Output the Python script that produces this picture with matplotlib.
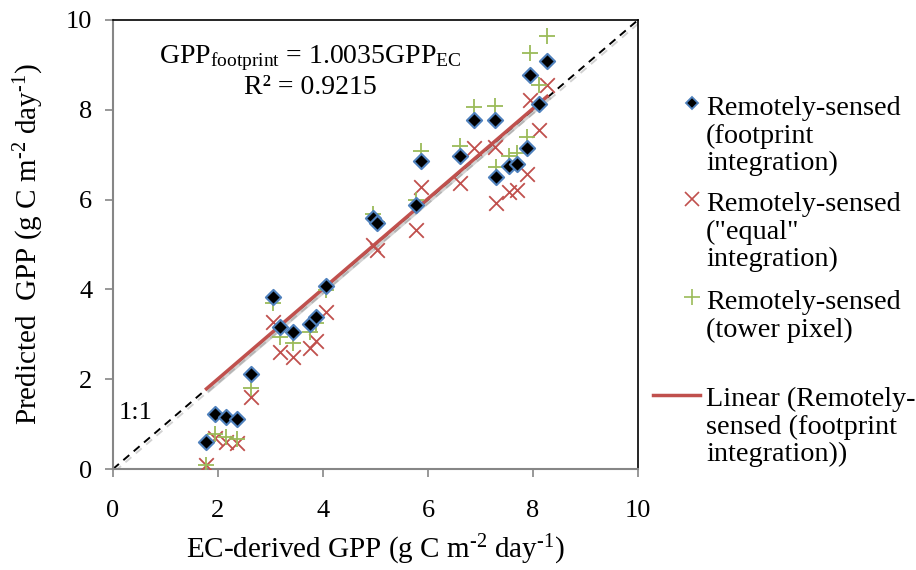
import matplotlib
matplotlib.use("Agg")
import matplotlib.pyplot as plt
import matplotlib.patheffects as pe
from matplotlib.lines import Line2D
import numpy as np

plt.rcParams['font.family'] = ['Liberation Serif', 'DejaVu Serif']
plt.rcParams['mathtext.fontset'] = 'custom'
plt.rcParams['mathtext.rm'] = 'Liberation Serif'
plt.rcParams['mathtext.it'] = 'Liberation Serif:italic'

# EC-derived GPP (x)
ec_gpp = [1.78, 1.94, 2.15, 2.37, 2.62, 3.05, 3.18, 3.42, 3.75, 3.86, 4.05,
          4.96, 5.03, 5.78, 5.87, 6.61, 6.88, 7.28, 7.30, 7.55, 7.70, 7.89,
          7.94, 8.11, 8.27]
# Remotely-sensed (footprint integration)
footprint = [0.60, 1.22, 1.15, 1.11, 2.11, 3.82, 3.17, 3.06, 3.22, 3.39, 4.08,
             5.58, 5.47, 5.88, 6.87, 6.96, 7.77, 7.77, 6.50, 6.75, 6.79, 7.16,
             8.77, 8.14, 9.09]
# Remotely-sensed ("equal" integration)
equal = [0.10, 0.68, 0.61, 0.57, 1.61, 3.28, 2.61, 2.50, 2.69, 2.86, 3.50,
         4.99, 4.88, 5.32, 6.29, 6.36, 7.16, 7.18, 5.93, 6.18, 6.22, 6.57,
         8.22, 7.56, 8.55]
# Remotely-sensed (tower pixel)
tower = [0.09, 0.79, 0.72, 0.66, 1.80, 3.69, 2.95, 2.81, 3.06, 3.26, 3.99,
         5.69, 5.51, 5.99, 7.09, 7.19, 8.06, 8.08, 6.73, 6.97, 7.03, 7.40,
         9.26, 8.55, 9.64]
slope = 1.0035
r2 = 0.9215
ticks = [0, 2, 4, 6, 8, 10]
legend_labels = [
    'Remotely-sensed\n(footprint\nintegration)',
    'Remotely-sensed\n("equal"\nintegration)',
    'Remotely-sensed\n(tower pixel)',
    'Linear (Remotely-\nsensed (footprint\nintegration))',
]

blue = '#4F81BD'
red = '#C0504D'
green = '#9BBB59'
gray = '#868686'

W, H = 916, 570
fig = plt.figure(figsize=(W / 100, H / 100), dpi=100)
ax = fig.add_axes([113 / W, 1 - 469 / H, 525 / W, 449 / H])

shadow = [pe.SimpleLineShadow(offset=(1.5, -1.5), alpha=0.35, shadow_color='gray'), pe.Normal()]

# 1:1 line
ax.plot([0, 10], [0, 10], ls=(0, (4, 3)), color='black', lw=1.4, path_effects=shadow, zorder=2)

# trend line
xs = np.array([min(ec_gpp), max(ec_gpp)])
ax.plot(xs, slope * xs, color=red, lw=2.5, path_effects=shadow, zorder=3)

ax.scatter(ec_gpp, equal, marker='x', s=110, color=red, linewidths=1.3, zorder=4)
ax.scatter(ec_gpp, tower, marker='+', s=130, color=green, linewidths=1.3, zorder=5)
ax.scatter(ec_gpp, footprint, marker='D', s=60, facecolor='black', edgecolor=blue, linewidths=1.5, zorder=6)

ax.set_xlim(0, 10)
ax.set_ylim(0, 10)
ax.set_xticks(ticks)
ax.set_yticks(ticks)
ax.tick_params(axis='both', labelsize=19, color=gray, length=6, width=1.2, direction='out')
ax.tick_params(axis='x', pad=16)
ax.tick_params(axis='y', pad=9)
ax.spines['left'].set_color(gray)
ax.spines['bottom'].set_color(gray)
ax.spines['left'].set_linewidth(1.5)
ax.spines['bottom'].set_linewidth(1.5)
ax.spines['top'].set_color('black')
ax.spines['right'].set_color('black')
ax.spines['top'].set_linewidth(1.2)
ax.spines['right'].set_linewidth(1.2)

ax.set_xlabel(r'EC-derived GPP (g C m$^{\text{-2}}$ day$^{\text{-1}}$)', fontsize=21, labelpad=8)
ax.set_ylabel(r'Predicted  GPP (g C m$^{\text{-2}}$ day$^{\text{-1}}$)', fontsize=21, labelpad=14)

ax.text(3.75, 9.15, r'GPP$_{\mathrm{footprint}}$ = %.4fGPP$_{\mathrm{EC}}$' % slope,
        fontsize=20, ha='center', va='center')
ax.text(3.75, 8.5, 'R² = %.4f' % r2, fontsize=20, ha='center', va='center')
ax.text(0.1, 1.25, '1:1', fontsize=19, ha='left', va='center')


# manual legend (handles aligned with the first line of each label)
def fy(py):
    return 1 - py / H


text_x = 706 / W
marker_x = 692 / W
first_lines = [105, 201, 299, 396]
handles = [
    dict(marker='D', ms=6.5, mfc='black', mec=blue, mew=1.3, ls='none'),
    dict(marker='x', ms=10, color=red, mew=1.2, ls='none'),
    dict(marker='+', ms=11, color=green, mew=1.2, ls='none'),
]
for i, (lab, py) in enumerate(zip(legend_labels, first_lines)):
    fig.text(text_x, fy(py - 9), lab, fontsize=20.3, ha='left', va='top', linespacing=1.13)
    if i < 3:
        fig.add_artist(Line2D([marker_x], [fy(py - 2)], transform=fig.transFigure, **handles[i]))
    else:
        fig.add_artist(Line2D([653 / W, 700 / W], [fy(py - 1)] * 2, transform=fig.transFigure,
                              color=red, lw=2.5))

fig.savefig('out.png', dpi=100)
